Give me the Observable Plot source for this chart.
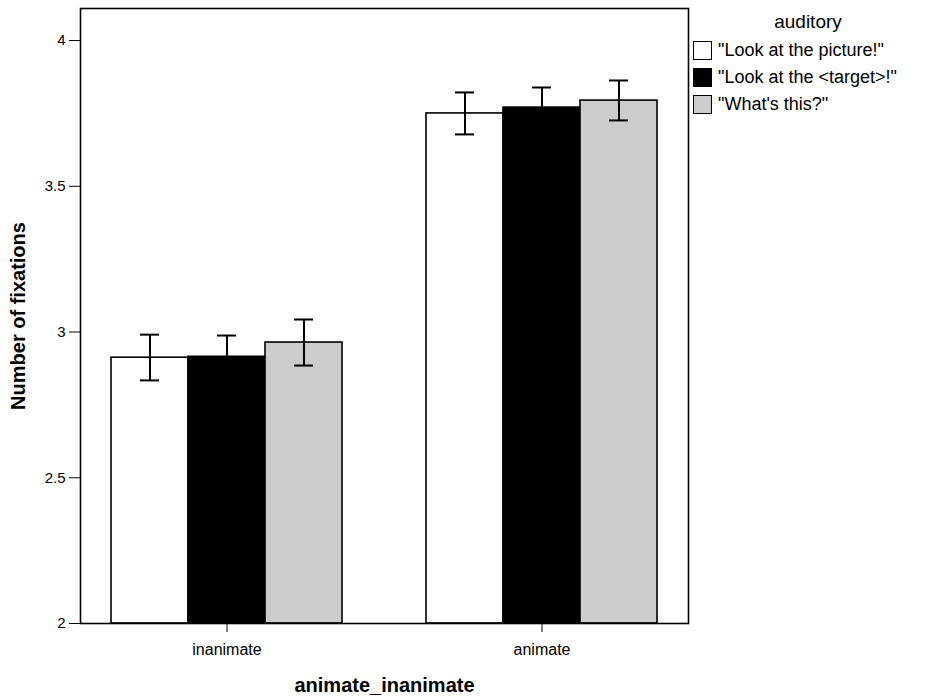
<!DOCTYPE html>
<html>
<head>
<meta charset="utf-8">
<script src="https://cdn.jsdelivr.net/npm/d3@7"></script>
<script src="https://cdn.jsdelivr.net/npm/@observablehq/plot@0.6"></script>
<style>
  body { margin: 0; background: #fff; font-family: "Liberation Sans", Arial, sans-serif; }
  #wrap { position: relative; width: 927px; height: 696px; }
  #legend { position: absolute; left: 693px; top: 0; width: 230px; font-size: 18px; color: #000; }
  #legend .title { text-align: center; margin-top: 11px; height: 26px; line-height: 22px; font-size: 19px; }
  #legend .item { display: flex; align-items: center; height: 27px; white-space: nowrap; }
  #legend .sw { width: 17px; height: 17px; border: 1.5px solid #000; margin-right: 6px; flex: none; }
  [aria-label="y-axis label"], [aria-label="fx-axis label"] { font-weight: bold; font-size: 20px; }
</style>
</head>
<body>
<div id="wrap">
  <div id="chart"></div>
  <div id="legend"></div>
</div>
<script>
const groups = ["inanimate", "animate"];
const series = ['"Look at the picture!"', '"Look at the <target>!"', '"What\'s this?"'];
const colors = ["#ffffff", "#000000", "#cccccc"];
const means = {
  inanimate: [2.912, 2.915, 2.964],
  animate: [3.750, 3.770, 3.794]
};
const errLow = {
  inanimate: [2.834, 2.844, 2.885],
  animate: [3.678, 3.701, 3.726]
};
const errHigh = {
  inanimate: [2.991, 2.988, 3.043],
  animate: [3.822, 3.839, 3.863]
};
const yTicks = [2, 2.5, 3, 3.5, 4];
const yBase = 2;

const data = [];
for (const g of groups) {
  series.forEach((s, i) => {
    data.push({group: g, series: s, mean: means[g][i], lo: errLow[g][i], hi: errHigh[g][i]});
  });
}

const chart = Plot.plot({
  width: 927,
  height: 696,
  marginTop: 8,
  marginBottom: 73,
  marginLeft: 79,
  marginRight: 238,
  style: {fontFamily: "'Liberation Sans', Arial, sans-serif", color: "#000", background: "#fff"},
  fx: {domain: groups, paddingInner: 0.0696, paddingOuter: 0, label: null},
  x: {domain: series, paddingInner: 0, paddingOuter: 0.3846, axis: null},
  y: {domain: [2, 4.11], label: null},
  color: {domain: series, range: colors},
  marks: [
    Plot.barY(data, {fx: "group", x: "series", y1: () => yBase, y2: "mean", fill: "series", stroke: "#000", strokeWidth: 1.6}),
    Plot.ruleX(data, {fx: "group", x: "series", y1: "lo", y2: "hi", stroke: "#000", strokeWidth: 2}),
    Plot.tickY(data, {fx: "group", x: "series", y: "lo", stroke: "#000", strokeWidth: 2, insetLeft: 29, insetRight: 29}),
    Plot.tickY(data, {fx: "group", x: "series", y: "hi", stroke: "#000", strokeWidth: 2, insetLeft: 29, insetRight: 29}),
    Plot.axisY({ticks: yTicks, tickFormat: d => String(d), tickSize: 11, tickPadding: 4, fontSize: 15,
      label: "Number of fixations", labelAnchor: "center", labelArrow: "none", labelOffset: 70}),
    Plot.axisFx({anchor: "bottom", tickSize: 9, tickPadding: 11, fontSize: 16,
      label: "animate_inanimate", labelAnchor: "center", labelArrow: "none", labelOffset: 68}),
    Plot.frame({facet: "super", stroke: "#000", strokeWidth: 1.6})
  ]
});
document.getElementById("chart").appendChild(chart);

const legend = document.getElementById("legend");
const t = document.createElement("div");
t.className = "title";
t.textContent = "auditory";
legend.appendChild(t);
series.forEach((s, i) => {
  const item = document.createElement("div");
  item.className = "item";
  const sw = document.createElement("div");
  sw.className = "sw";
  sw.style.background = colors[i];
  const lab = document.createElement("span");
  lab.textContent = s;
  item.appendChild(sw);
  item.appendChild(lab);
  legend.appendChild(item);
});
</script>
</body>
</html>
